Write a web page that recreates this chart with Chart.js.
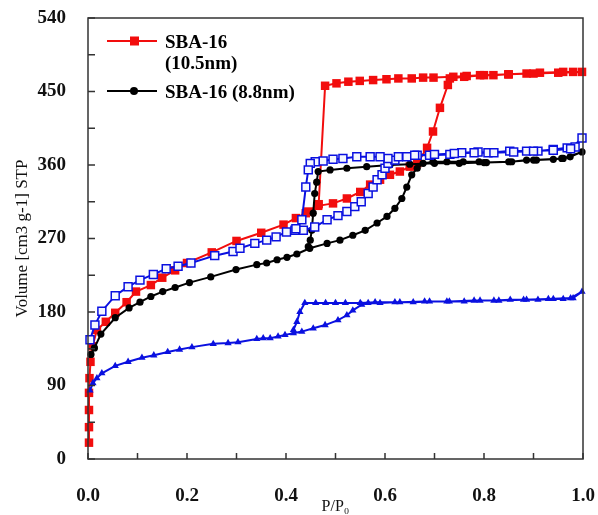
<!DOCTYPE html>
<html>
<head>
<meta charset="utf-8">
<script src="https://cdn.jsdelivr.net/npm/chart.js@4.4.0/dist/chart.umd.min.js"></script>
<style>
  html, body { margin: 0; padding: 0; background: #fff; }
</style>
</head>
<body>
<canvas id="myChart" width="598" height="515"></canvas>
<script>
// SBA-16 (10.5nm), red filled squares
const redAdsP = [0.002, 0.002, 0.002, 0.002, 0.003, 0.005, 0.009, 0.018, 0.036, 0.055, 0.078, 0.097, 0.127, 0.150, 0.176, 0.200, 0.250, 0.300, 0.350, 0.395, 0.420, 0.440, 0.465, 0.495, 0.523, 0.550, 0.570, 0.590, 0.610, 0.630, 0.650, 0.665, 0.685, 0.697, 0.711, 0.727, 0.731, 0.760, 0.800, 0.850, 0.900, 0.950, 0.998]
const redAdsV = [20, 39, 60, 81, 99, 119, 138, 158, 168, 179, 192, 205, 213, 222, 231, 240, 253, 267, 277, 287, 295, 301, 310, 313, 319, 327, 336, 342, 348, 352, 358, 362, 381, 401, 430, 458, 466, 468, 470, 471, 472, 473, 474]
const redDesP = [0.980, 0.960, 0.913, 0.886, 0.849, 0.819, 0.792, 0.765, 0.738, 0.698, 0.677, 0.654, 0.627, 0.603, 0.576, 0.549, 0.526, 0.502, 0.479, 0.466, 0.445]
const redDesV = [474, 474, 473, 472, 471, 470, 470, 469, 468, 467, 467, 466, 466, 465, 464, 463, 462, 460, 457, 312, 303]

// SBA-16 (8.8nm), black circles
const blackAdsP = [0.006, 0.013, 0.026, 0.055, 0.083, 0.105, 0.127, 0.151, 0.176, 0.205, 0.248, 0.299, 0.341, 0.361, 0.382, 0.402, 0.422, 0.448, 0.483, 0.509, 0.535, 0.560, 0.584, 0.604, 0.620, 0.634, 0.644, 0.654, 0.665, 0.677, 0.697, 0.725, 0.758, 0.790, 0.805, 0.856, 0.886, 0.906, 0.940, 0.957, 0.974, 0.998]
const blackAdsV = [128, 136, 153, 173, 185, 192, 199, 205, 210, 216, 223, 232, 238, 240, 244, 247, 251, 258, 264, 268, 274, 280, 289, 297, 307, 319, 333, 348, 356, 362, 364, 364, 364, 364, 363, 364, 366, 366, 367, 368, 370, 376]
const blackDesP = [0.960, 0.900, 0.850, 0.800, 0.750, 0.700, 0.650, 0.610, 0.563, 0.523, 0.489, 0.465, 0.462, 0.458, 0.455, 0.452, 0.449, 0.445]
const blackDesV = [368, 366, 364, 363, 362, 362, 361, 360, 358, 356, 354, 352, 339, 325, 301, 280, 268, 260]

// blue open squares
const blueSqAdsP = [0.004, 0.014, 0.028, 0.055, 0.081, 0.105, 0.132, 0.158, 0.182, 0.208, 0.256, 0.293, 0.307, 0.337, 0.361, 0.380, 0.401, 0.418, 0.435, 0.458, 0.483, 0.505, 0.523, 0.539, 0.552, 0.566, 0.576, 0.584, 0.594, 0.600, 0.606, 0.620, 0.644, 0.665, 0.690, 0.731, 0.755, 0.788, 0.808, 0.852, 0.886, 0.909, 0.940, 0.968, 0.984, 0.998]
const blueSqAdsV = [146, 164, 181, 200, 211, 219, 226, 233, 236, 240, 249, 254, 258, 264, 268, 272, 278, 280, 280, 284, 293, 298, 303, 309, 315, 325, 333, 342, 348, 356, 362, 366, 370, 372, 372, 373, 375, 376, 375, 377, 377, 377, 379, 381, 382, 393]
const blueSqDesP = [0.975, 0.940, 0.900, 0.860, 0.820, 0.780, 0.740, 0.700, 0.660, 0.627, 0.606, 0.590, 0.570, 0.543, 0.515, 0.495, 0.475, 0.459, 0.449, 0.445, 0.440, 0.432, 0.420]
const blueSqDesV = [380, 378, 377, 376, 375, 375, 374, 373, 372, 370, 368, 370, 370, 370, 368, 367, 365, 364, 362, 354, 333, 293, 282]

// blue triangles
const blueTriAdsP = [0.004, 0.010, 0.018, 0.028, 0.055, 0.081, 0.109, 0.133, 0.161, 0.185, 0.210, 0.253, 0.283, 0.303, 0.341, 0.354, 0.368, 0.384, 0.398, 0.415, 0.432, 0.455, 0.479, 0.505, 0.523, 0.535, 0.553, 0.566, 0.590, 0.620, 0.657, 0.690, 0.725, 0.760, 0.792, 0.820, 0.853, 0.886, 0.909, 0.940, 0.960, 0.980, 0.998]
const blueTriAdsV = [84, 93, 99, 105, 114, 119, 124, 127, 131, 134, 137, 141, 142, 143, 147, 148, 148, 150, 152, 154, 156, 160, 164, 170, 176, 182, 189, 191, 191, 192, 192, 193, 193, 193, 194, 194, 195, 195, 195, 196, 196, 197, 205]
const blueTriDesP = [0.975, 0.930, 0.880, 0.830, 0.780, 0.730, 0.680, 0.630, 0.580, 0.550, 0.520, 0.500, 0.480, 0.460, 0.438, 0.428, 0.422, 0.415]
const blueTriDesV = [197, 196, 195, 194, 194, 193, 193, 192, 192, 191, 191, 191, 191, 191, 191, 180, 168, 158]

const seriesLabels = ['SBA-16\n(10.5nm)', 'SBA-16 (8.8nm)', '', '']

const toPoints = (p, v) => p.map((x, i) => ({ x: x, y: v[i] }))

const RED = '#f20d0d'
const BLUE = '#0a10e0'

const frameAndTicks = {
  id: 'frameAndTicks',
  afterDatasetsDraw(chart) {
    const { ctx, chartArea: a, scales: { x, y } } = chart
    ctx.save()
    ctx.strokeStyle = '#333'
    ctx.lineWidth = 1.5
    ctx.strokeRect(a.left, a.top, a.right - a.left, a.bottom - a.top)
    ctx.beginPath()
    x.ticks.forEach(t => {
      const px = x.getPixelForValue(t.value)
      ctx.moveTo(px, a.bottom)
      ctx.lineTo(px, a.bottom - 6)
    })
    y.ticks.forEach(t => {
      const py = y.getPixelForValue(t.value)
      ctx.moveTo(a.left, py)
      ctx.lineTo(a.left + 7, py)
    })
    ctx.stroke()
    ctx.restore()
  }
}

// legend drawn inside the plot, top left
const insideLegend = {
  id: 'insideLegend',
  afterDraw(chart) {
    const { ctx, chartArea: a } = chart
    ctx.save()
    ctx.font = 'bold 19px "Liberation Serif"'
    ctx.textBaseline = 'middle'
    let yy = a.top + 23
    chart.data.datasets.slice(0, 2).forEach(ds => {
      const x0 = a.left + 19
      ctx.strokeStyle = ds.borderColor
      ctx.lineWidth = 2
      ctx.beginPath()
      ctx.moveTo(x0, yy)
      ctx.lineTo(x0 + 50, yy)
      ctx.stroke()
      ctx.fillStyle = ds.pointBackgroundColor
      if (ds.pointStyle === 'rect') {
        ctx.fillRect(x0 + 23, yy - 4.5, 9, 9)
      } else {
        ctx.beginPath()
        ctx.arc(x0 + 27, yy, 4, 0, Math.PI * 2)
        ctx.fill()
      }
      ctx.fillStyle = '#000'
      const lines = ds.label.split('\n')
      lines.forEach((line, j) => ctx.fillText(line, x0 + 58, yy + 2 + j * 21))
      yy += 50
    })
    ctx.restore()
  }
}

const noEdgePadding = s => {
  s.paddingLeft = 0
  s.paddingRight = 0
  s.paddingTop = 0
  s.paddingBottom = 0
}

Chart.defaults.font.family = "'Liberation Serif', 'Times New Roman', serif"
Chart.defaults.color = '#111'

const ctx = document.getElementById('myChart')

new Chart(ctx, {
  type: 'scatter',
  data: {
    datasets: [
      {
        label: seriesLabels[0],
        data: toPoints(redAdsP.concat(redDesP), redAdsV.concat(redDesV)),
        showLine: true,
        borderColor: RED,
        borderWidth: 2,
        pointStyle: 'rect',
        pointRadius: 6,
        pointBorderWidth: 0,
        pointBackgroundColor: RED,
        pointBorderColor: RED,
        order: 4,
        clip: false
      },
      {
        label: seriesLabels[1],
        data: toPoints(blackAdsP.concat(blackDesP), blackAdsV.concat(blackDesV)),
        showLine: true,
        borderColor: '#000',
        borderWidth: 2,
        pointStyle: 'circle',
        pointRadius: 3.6,
        pointBorderWidth: 0,
        pointBackgroundColor: '#000',
        pointBorderColor: '#000',
        order: 3,
        clip: false
      },
      {
        label: seriesLabels[2],
        data: toPoints(blueSqAdsP.concat(blueSqDesP), blueSqAdsV.concat(blueSqDesV)),
        showLine: true,
        borderColor: BLUE,
        borderWidth: 2,
        pointStyle: 'rect',
        pointRadius: 5.6,
        pointBorderWidth: 1.5,
        pointBackgroundColor: '#f4f6ff',
        pointBorderColor: BLUE,
        order: 2,
        clip: false
      },
      {
        label: seriesLabels[3],
        data: toPoints(blueTriAdsP.concat(blueTriDesP), blueTriAdsV.concat(blueTriDesV)),
        showLine: true,
        borderColor: BLUE,
        borderWidth: 2,
        pointStyle: 'triangle',
        pointRadius: 4.2,
        pointBorderWidth: 0,
        pointBackgroundColor: BLUE,
        pointBorderColor: BLUE,
        order: 1,
        clip: false
      }
    ]
  },
  options: {
    responsive: false,
    animation: false,
    devicePixelRatio: 1,
    layout: { padding: { top: 18, right: 15, left: 0, bottom: 0 } },
    plugins: {
      legend: { display: false },
      tooltip: { enabled: false }
    },
    scales: {
      x: {
        type: 'linear',
        min: 0,
        max: 1,
        grid: { display: false, drawTicks: false },
        border: { display: false },
        ticks: {
          stepSize: 0.1,
          padding: 26,
          maxRotation: 0,
          font: { size: 19, weight: 'bold' },
          color: '#111',
          callback: v => (Math.round(v * 10) % 2 === 0 ? v.toFixed(1) : '')
        },
        title: {
          display: true,
          text: 'P/P₀',
          font: { size: 16, lineHeight: 1 },
          color: '#111',
          padding: { top: 0, bottom: 0 }
        },
        afterFit: s => {
          s.height = 56
          noEdgePadding(s)
        }
      },
      y: {
        type: 'linear',
        min: 0,
        max: 540,
        grid: { display: false, drawTicks: false },
        border: { display: false },
        ticks: {
          stepSize: 45,
          padding: 22,
          font: { size: 19, weight: 'bold' },
          color: '#111',
          callback: v => (v % 90 === 0 ? v : '')
        },
        title: {
          display: true,
          text: 'Volume [cm3 g-1] STP',
          font: { size: 17 },
          color: '#111',
          padding: { top: 12, bottom: 0 }
        },
        afterFit: s => {
          s.width = 88
          noEdgePadding(s)
        }
      }
    }
  },
  plugins: [frameAndTicks, insideLegend]
})
</script>
</body>
</html>
